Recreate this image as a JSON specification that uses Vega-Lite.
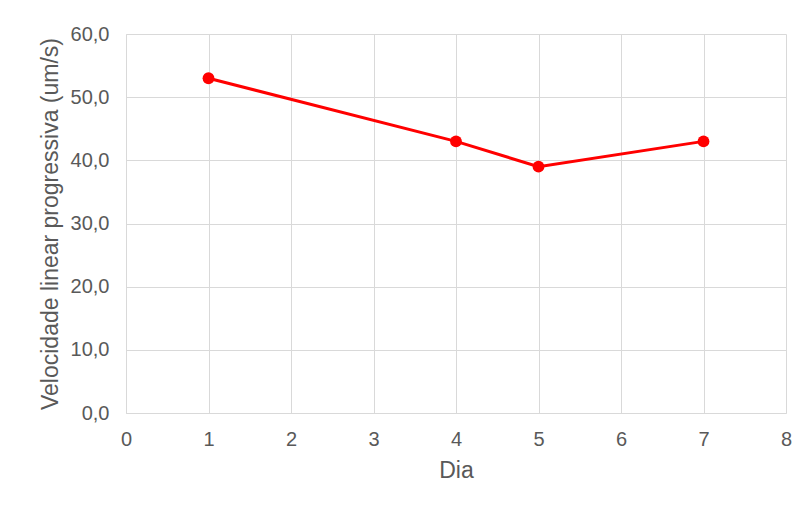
{
  "$schema": "https://vega.github.io/schema/vega-lite/v6.json",
  "width": 660,
  "height": 379,
  "autosize": "none",
  "padding": {"left": 126, "top": 34, "right": 26, "bottom": 94},
  "background": "white",
  "config": {
    "view": {"stroke": null},
    "font": "Liberation Sans",
    "axis": {
      "labelFont": "Liberation Sans",
      "titleFont": "Liberation Sans",
      "labelColor": "#595959",
      "titleColor": "#595959",
      "labelFontSize": 20,
      "titleFontSize": 23,
      "titleFontWeight": "normal",
      "gridColor": "#d9d9d9",
      "domainColor": "#d9d9d9",
      "ticks": false,
      "labelFlush": false
    }
  },
  "data": {
    "values": [
      {"Dia": 1, "v": 53},
      {"Dia": 4, "v": 43},
      {"Dia": 5, "v": 39},
      {"Dia": 7, "v": 43}
    ]
  },
  "mark": {"type": "line", "color": "#ff0000", "strokeWidth": 3, "point": {"filled": true, "color": "#ff0000", "size": 140, "opacity": 1}},
  "encoding": {
    "x": {
      "field": "Dia", "type": "quantitative",
      "scale": {"domain": [0, 8], "nice": false, "zero": false},
      "axis": {"values": [0,1,2,3,4,5,6,7,8], "title": "Dia", "labelPadding": 16, "titlePadding": 10}
    },
    "y": {
      "field": "v", "type": "quantitative",
      "scale": {"domain": [0, 60], "nice": false},
      "axis": {"values": [0,10,20,30,40,50,60], "title": "Velocidade linear progressiva (um/s)", "labelExpr": "replace(format(datum.value, '.1f'), '.', ',')", "labelPadding": 17, "titlePadding": 8}
    }
  }
}
